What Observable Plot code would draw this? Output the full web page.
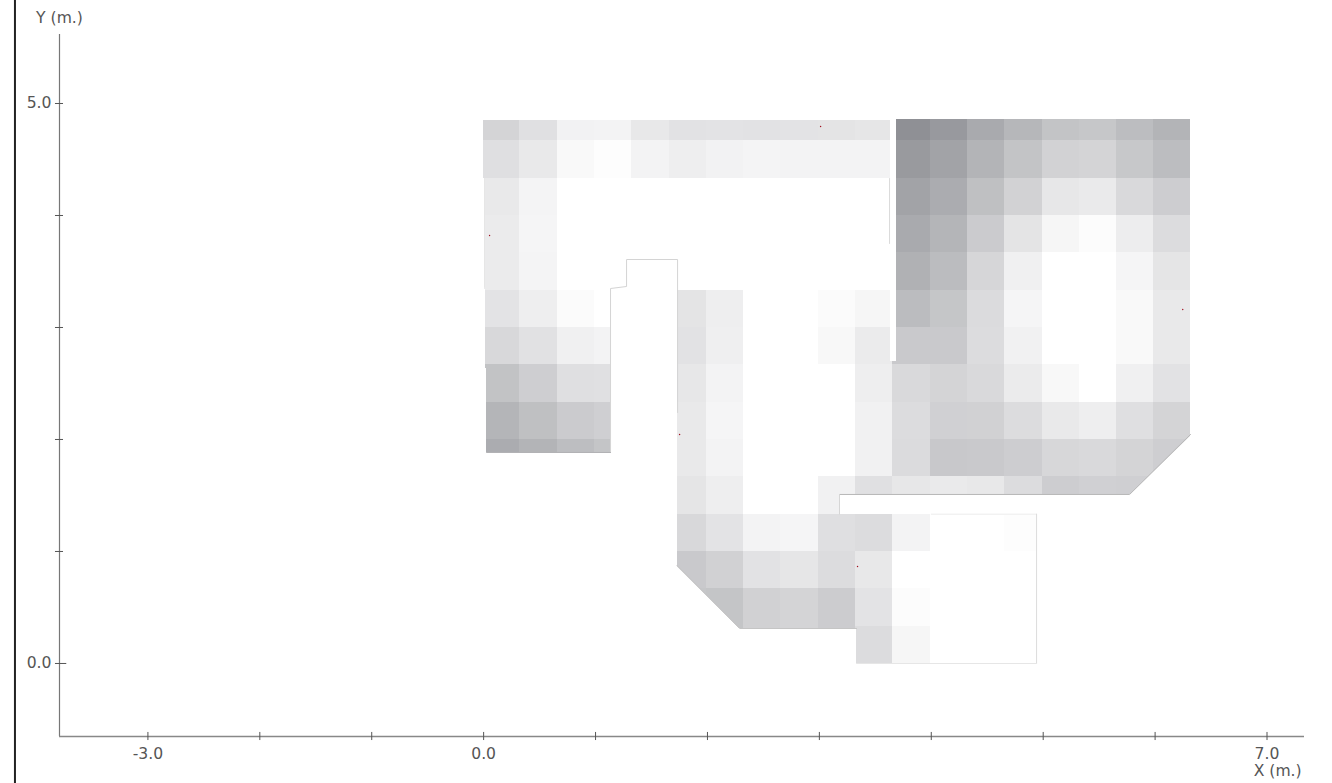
<!DOCTYPE html>
<html>
<head>
<meta charset="utf-8">
<style>html,body{margin:0;padding:0;background:#fff;overflow:hidden}svg{display:block}</style>
<script src="https://cdn.jsdelivr.net/npm/d3@7"></script>
<script src="https://cdn.jsdelivr.net/npm/@observablehq/plot@0.6"></script>
</head>
<body>
<div id="chart"></div>
<script>
// Cell edges of the illuminance grid, in metres
const xEdges = [-0.01,0.323,0.657,0.99,1.323,1.657,1.99,2.323,2.657,2.99,3.323,3.657,3.99,4.323,4.657,4.99,5.323,5.657,5.99,6.323];
const yEdges = [5,4.667,4.333,4,3.667,3.333,3,2.667,2.333,2,1.667,1.333,1,0.667,0.333,0];

// Grey level per cell, row by row from the top
const levels = [
 [212,224,242,243,232,226,227,226,227,228,230,143,152,169,182,195,198,188,179],
 [223,233,249,253,243,238,242,244,243,243,243,153,162,179,195,210,212,199,188],
 [233,244,255,255,255,255,255,255,255,255,255,162,171,191,210,231,234,217,205],
 [235,245,255,255,255,255,255,255,255,255,255,169,180,203,228,246,252,237,220],
 [235,244,255,255,255,255,255,255,255,255,255,176,187,214,240,255,255,245,229],
 [227,238,251,255,255,228,238,255,255,251,246,187,197,219,245,255,255,249,233],
 [216,225,240,243,255,226,239,255,255,248,235,201,201,220,241,255,255,249,233],
 [194,206,223,224,255,231,243,255,255,255,238,217,212,217,235,248,255,240,226],
 [180,191,203,207,255,233,245,255,255,255,241,220,208,209,220,233,238,223,212],
 [171,179,189,196,255,233,243,255,255,255,241,219,200,201,205,215,217,212,206],
 [255,255,255,255,255,229,238,255,255,241,224,231,234,232,220,205,208,207,207],
 [255,255,255,255,255,216,227,243,245,223,220,243,255,255,253,255,255,255,255],
 [255,255,255,255,255,201,209,226,230,220,232,255,255,255,255,255,255,255,255],
 [255,255,255,255,255,198,196,209,212,204,227,252,255,255,255,255,255,255,255],
 [255,255,255,255,255,255,196,209,212,204,220,246,255,255,255,255,255,255,255]
];

// Rooms as rectangles: [x1, x2, y1, y2] in metres
const rooms = [
 [0,3.636,4.33,4.848],
 [0.008,1.134,3.339,4.33],
 [0.021,1.134,2.634,3.339],
 [0.026,1.134,1.884,2.634],
 [1.733,3.636,2.696,3.339],
 [1.733,3.653,2.241,2.696],
 [1.728,3.653,1.509,2.241],
 [1.728,3.18,1.333,1.509],
 [1.728,3.332,0.3125,1.333],
 [3.332,4.941,0,1.333],
 [3.69,6.317,2.696,4.857],
 [3.653,6.317,1.509,2.696]
];

// Chamfered corners of the rooms
const chamferX = [[1.72,2.287,1.72],[6.325,5.772,6.325]];
const chamferY = [[0.875,0.3125,0.3125],[2.045,1.509,1.509]];

// Wall outlines: [colour, x, y]
const wallLines = [
 ["#d4d4d4",[1.134,1.134,1.277,1.277,1.733,1.733],[1.884,3.348,3.366,3.607,3.607,2.241]],
 ["#dadada",[3.627,3.627],[4.33,3.75]],
 ["#e6e6e6",[0.008,0.008],[4.33,3.36]],
 ["#b0b0b3",[0.026,1.134],[1.884,1.884]],
 ["#b8b8b8",[3.18,5.772,6.317],[1.509,1.509,2.045]],
 ["#d6d6d6",[3.18,3.18],[1.509,1.333]],
 ["#c4c4c4",[1.728,2.287,3.332],[0.875,0.3125,0.3125]],
 ["#ececec",[4.0,4.941],[1.333,1.333]],
 ["#dcdcdc",[4.941,4.941],[1.333,0]],
 ["#e6e6e6",[4.941,3.332],[0,0]]
];

const spotX = [3.011,0.053,1.751,3.341,6.247];
const spotY = [4.795,3.821,2.045,0.866,3.161];

const xTicks = [-3,-2,-1,0,1,2,3,4,5,6,7];
const yTicks = [0,1,2,3,4,5];
const xLabelled = [-3,0,7];
const yLabelled = [0,5];
const xName = "X (m.)";
const yName = "Y (m.)";

const xMin = -3.79, xMax = 7.335, yMin = -0.652, yMax = 5.616;

const cells = [];
for (const [rx1, rx2, ry1, ry2] of rooms) {
  levels.forEach((row, r) => row.forEach((level, c) => {
    const x1 = Math.max(xEdges[c], rx1), x2 = Math.min(xEdges[c + 1], rx2);
    const y1 = Math.max(yEdges[r + 1], ry1), y2 = Math.min(yEdges[r], ry2);
    if (x2 > x1 && y2 > y1 && level < 255) cells.push({x1, x2, y1, y2, level});
  }));
}
const chamfers = chamferX.flatMap((xs, i) => xs.map((x, j) => ({x, y: chamferY[i][j], z: i})));
const walls = wallLines.flatMap(([color, xs, ys], i) => xs.map((x, j) => ({x, y: ys[j], z: i, color})));
const spots = spotX.map((x, i) => ({x, y: spotY[i]}));

const tickInk = "#555";
const chart = Plot.plot({
  width: 1332,
  height: 783,
  marginLeft: 59,
  marginRight: 28,
  marginTop: 34,
  marginBottom: 47,
  style: {background: "#fff", fontFamily: "'DejaVu Sans'", fontSize: "15.6px", color: "#444"},
  x: {domain: [xMin, xMax]},
  y: {domain: [yMin, yMax]},
  color: {type: "linear", domain: [143, 255], range: ["#8f9095", "#ffffff"]},
  marks: [
    Plot.rect(cells, {x1: "x1", x2: "x2", y1: "y1", y2: "y2", fill: "level", shapeRendering: "crispEdges"}),
    Plot.line(chamfers, {x: "x", y: "y", z: "z", fill: "#fff", stroke: "none"}),
    Plot.line(walls, {x: "x", y: "y", z: "z", stroke: "color", strokeWidth: 1, curve: "linear"}),
    Plot.dot(spots, {x: "x", y: "y", r: 0.7, fill: "#a01020"}),
    // frame line at the far left
    Plot.ruleX([-4.188], {y1: -1.1, y2: 6, stroke: "#222", strokeWidth: 2}),
    // axis lines
    Plot.ruleX([xMin], {y1: yMin, y2: yMax, stroke: "#777", strokeWidth: 1.2}),
    Plot.ruleY([yMin], {x1: xMin, x2: xMax, stroke: "#888", strokeWidth: 1.6}),
    // ticks crossing the axis lines
    Plot.ruleX(xTicks, {y1: yMin - 0.036, y2: yMin + 0.036, stroke: tickInk, strokeWidth: 1}),
    Plot.ruleY(yTicks, {x1: xMin - 0.036, x2: d => xMin + (d === 0 ? 0.065 : 0.036), stroke: tickInk, strokeWidth: 1}),
    Plot.axisX(xTicks, {tickSize: 0, tickPadding: 11, label: null, fill: "#555",
      tickFormat: d => xLabelled.includes(d) ? d3.format(".1f")(d).replace("−", "-") : ""}),
    Plot.axisY(yTicks, {tickSize: 0, tickPadding: 8, label: null, fill: "#555",
      tickFormat: d => yLabelled.includes(d) ? d3.format(".1f")(d) : ""}),
    Plot.text([xName], {x: 7.095, y: yMin, dy: 34, text: d => d, fill: "#555"}),
    Plot.text([yName], {x: xMin, y: yMax, dy: -17, text: d => d, fill: "#555"})
  ]
});
document.getElementById("chart").append(chart);
</script>
</body>
</html>
